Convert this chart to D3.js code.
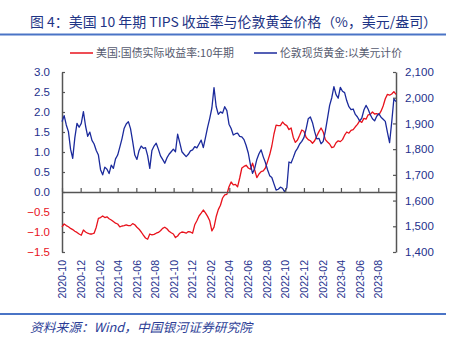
<!DOCTYPE html>
<html><head><meta charset="utf-8">
<script src="https://cdn.jsdelivr.net/npm/d3@7"></script>
<style>
html,body{margin:0;padding:0;background:#fff;}
svg{display:block;}
</style></head>
<body>
<svg id="chart" width="459" height="339"></svg>
<script>
// ---------------- DATA ----------------
const startDate = "2020-10-28";   // first weekly observation
const stepDays = 7;               // weekly observations
const tipsYield = [-0.87,-0.80,-0.84,-0.87,-0.91,-0.94,-0.98,-1.01,-1.05,-1.08,
 -0.95,-1.00,-1.03,-1.05,-1.05,-1.03,-0.88,-0.66,-0.64,-0.60,
 -0.64,-0.62,-0.67,-0.70,-0.74,-0.78,-0.80,-0.87,-0.85,-0.84,
 -0.82,-0.84,-0.84,-0.79,-0.82,-0.88,-0.93,-1.00,-1.08,-1.15,
 -1.18,-1.05,-1.07,-1.06,-1.03,-1.01,-0.97,-0.91,-0.88,-0.92,
 -0.98,-1.02,-1.05,-1.14,-1.10,-1.03,-1.00,-1.01,-1.03,-0.99,
 -1.00,-1.03,-0.82,-0.72,-0.60,-0.53,-0.45,-0.52,-0.61,-0.72,
 -0.97,-0.88,-0.62,-0.44,-0.33,-0.15,-0.07,-0.06,0.13,0.25,
 0.18,0.19,0.13,0.35,0.60,0.64,0.67,0.60,0.57,0.72,
 0.55,0.36,0.45,0.51,0.53,0.60,0.76,0.93,1.15,1.45,
 1.67,1.66,1.66,1.75,1.69,1.66,1.56,1.60,1.37,1.24,
 1.30,1.42,1.55,1.52,1.37,1.31,1.28,1.22,1.28,1.40,
 1.51,1.60,1.50,1.31,1.25,1.20,1.11,1.13,1.23,1.28,
 1.26,1.31,1.42,1.50,1.47,1.54,1.56,1.63,1.69,1.78,
 1.74,1.84,1.82,1.93,1.94,2.00,1.95,1.96,1.93,2.02,
 2.15,2.33,2.44,2.42,2.45,2.51,2.44];
const goldPrice = [1907,1930,1894,1868,1800,1764,1845,1900,1885,1900,
 1946,1890,1850,1866,1834,1820,1795,1777,1720,1700,
 1730,1722,1705,1738,1725,1762,1777,1808,1840,1880,
 1898,1907,1880,1830,1777,1760,1795,1812,1803,1806,
 1775,1725,1795,1812,1823,1800,1774,1760,1745,1766,
 1780,1790,1800,1790,1858,1825,1790,1780,1771,1780,
 1793,1797,1810,1805,1820,1835,1806,1845,1885,1920,
 1960,2039,1966,1935,1945,1940,1965,1950,1897,1880,
 1855,1860,1862,1850,1848,1837,1814,1785,1740,1706,
 1725,1760,1782,1797,1770,1748,1720,1697,1690,1665,
 1641,1644,1652,1648,1634,1650,1750,1746,1767,1790,
 1803,1820,1830,1845,1878,1918,1925,1903,1868,1840,
 1842,1821,1830,1870,1920,1970,2000,2043,2012,1998,
 2040,2025,2020,1988,1965,1954,1956,1935,1925,1910,
 1920,1952,1970,1955,1934,1918,1910,1928,1938,1924,
 1916,1908,1865,1825,1905,1995,1985];
const xTickLabels = ["2020-10","2020-12","2021-02","2021-04","2021-06","2021-08","2021-10","2021-12",
 "2022-02","2022-04","2022-06","2022-08","2022-10","2022-12","2023-02","2023-04","2023-06","2023-08"];
const leftTicks = [-1.5,-1.0,-0.5,0.0,0.5,1.0,1.5,2.0,2.5,3.0];
const rightTicks = [1400,1500,1600,1700,1800,1900,2000,2100];
const seriesNames = ["美国:国债实际收益率:10年期","伦敦现货黄金:以美元计价"];
const titleText = "图 4：美国 10 年期 TIPS 收益率与伦敦黄金价格（%，美元/盎司）";
const sourceText = "资料来源：Wind，中国银河证券研究院";

// ---------------- CHART ----------------
const RED = "#E8121C", BLUE = "#1B2A9C", NAVY = "#24308C", AXIS = "#555555";
const svg = d3.select("#chart");
svg.append("rect").attr("width",459).attr("height",339).attr("fill","#fff");

const parseDay = d3.timeParse("%Y-%m-%d");
const start = parseDay(startDate);
const dates = tipsYield.map((_, i) => d3.timeDay.offset(start, i * stepDays));
const tickDates = xTickLabels.map(s => { const [y,m] = s.split("-").map(Number); return new Date(y, m-1, 28); });

const plot = {left:62, right:396, top:72, bottom:252};
const x = d3.scaleTime().domain([start, dates[dates.length-1]]).range([plot.left, plot.right]);
const yL = d3.scaleLinear().domain([-1.5, 3.0]).range([plot.bottom, plot.top]);
const yR = d3.scaleLinear().domain([1400, 2100]).range([plot.bottom, plot.top]);

// title
svg.append("text").attr("x",30).attr("y",27)
  .attr("font-family","'Noto Sans CJK SC','Noto Sans',sans-serif").attr("font-size",13.5)
  .attr("fill","#1E3485").attr("textLength",407).attr("lengthAdjust","spacingAndGlyphs")
  .text(titleText);
svg.append("line").attr("x1",0).attr("x2",446).attr("y1",34.5).attr("y2",34.5)
  .attr("stroke","#4A74C6").attr("stroke-width",2.2);

// legend
const lg = svg.append("g").attr("font-family","'Noto Sans CJK SC','Noto Sans',sans-serif")
  .attr("font-size",11).attr("fill","#555a6e");
lg.append("line").attr("x1",70).attr("x2",93).attr("y1",53).attr("y2",53).attr("stroke",RED).attr("stroke-width",1.5);
lg.append("text").attr("x",96).attr("y",57).attr("textLength",138).attr("lengthAdjust","spacingAndGlyphs").text(seriesNames[0]);
lg.append("line").attr("x1",254).attr("x2",277).attr("y1",53).attr("y2",53).attr("stroke",BLUE).attr("stroke-width",1.5);
lg.append("text").attr("x",280).attr("y",57).attr("textLength",122).attr("lengthAdjust","spacingAndGlyphs").text(seriesNames[1]);

// left axis
const gL = svg.append("g").attr("transform",`translate(${plot.left},0)`)
  .call(d3.axisLeft(yL).tickValues(leftTicks).tickFormat(d3.format(".1f")).tickSizeInner(-3).tickSizeOuter(0).tickPadding(12));
gL.select(".domain").attr("stroke",AXIS).attr("stroke-width",1.5);
gL.selectAll(".tick line").attr("stroke",AXIS).attr("stroke-width",1.2);
gL.selectAll(".tick text").attr("font-family","'Liberation Sans',Arial,sans-serif").attr("font-size",11.5)
  .attr("fill", d => d < 0 ? RED : NAVY);

// right axis
const gR = svg.append("g").attr("transform",`translate(${plot.right},0)`)
  .call(d3.axisRight(yR).tickValues(rightTicks).tickFormat(d3.format(",")).tickSizeInner(-3).tickSizeOuter(0).tickPadding(9));
gR.select(".domain").attr("stroke",AXIS).attr("stroke-width",1.5);
gR.selectAll(".tick line").attr("stroke",AXIS).attr("stroke-width",1.2);
gR.selectAll(".tick text").attr("font-family","'Liberation Sans',Arial,sans-serif").attr("font-size",11.5).attr("fill",NAVY);

// lines
const lineL = d3.line().x((d,i) => x(dates[i])).y(d => yL(d));
const lineR = d3.line().x((d,i) => x(dates[i])).y(d => yR(d));
svg.append("path").datum(tipsYield).attr("d",lineL).attr("fill","none")
  .attr("stroke",RED).attr("stroke-width",1.3).attr("stroke-linejoin","round");
svg.append("path").datum(goldPrice).attr("d",lineR).attr("fill","none")
  .attr("stroke",BLUE).attr("stroke-width",1.3).attr("stroke-linejoin","round");

// x axis on the zero line
const gX = svg.append("g").attr("transform",`translate(0,${yL(0)})`)
  .call(d3.axisBottom(x).tickValues(tickDates).tickFormat(d3.timeFormat("%Y-%m")).tickSizeInner(-4).tickSizeOuter(0));
gX.select(".domain").attr("stroke",AXIS).attr("stroke-width",1.5);
gX.selectAll(".tick line").attr("stroke",AXIS).attr("stroke-width",1.2);
gX.selectAll(".tick text")
  .attr("font-family","'Liberation Sans',Arial,sans-serif").attr("font-size",10.5).attr("fill",NAVY)
  .attr("transform","rotate(-90)").attr("text-anchor","end")
  .attr("x", -(260 - yL(0))).attr("y",0).attr("dy","0.35em");

// source
svg.append("line").attr("x1",0).attr("x2",446).attr("y1",314).attr("y2",314)
  .attr("stroke","#4A74C6").attr("stroke-width",2);
svg.append("text").attr("x",30).attr("y",332)
  .attr("font-family","'Noto Sans CJK SC','Noto Sans',sans-serif").attr("font-size",12.5)
  .attr("font-style","italic").attr("fill","#2B3D96")
  .attr("textLength",222).attr("lengthAdjust","spacingAndGlyphs").text(sourceText);
</script>
</body></html>
